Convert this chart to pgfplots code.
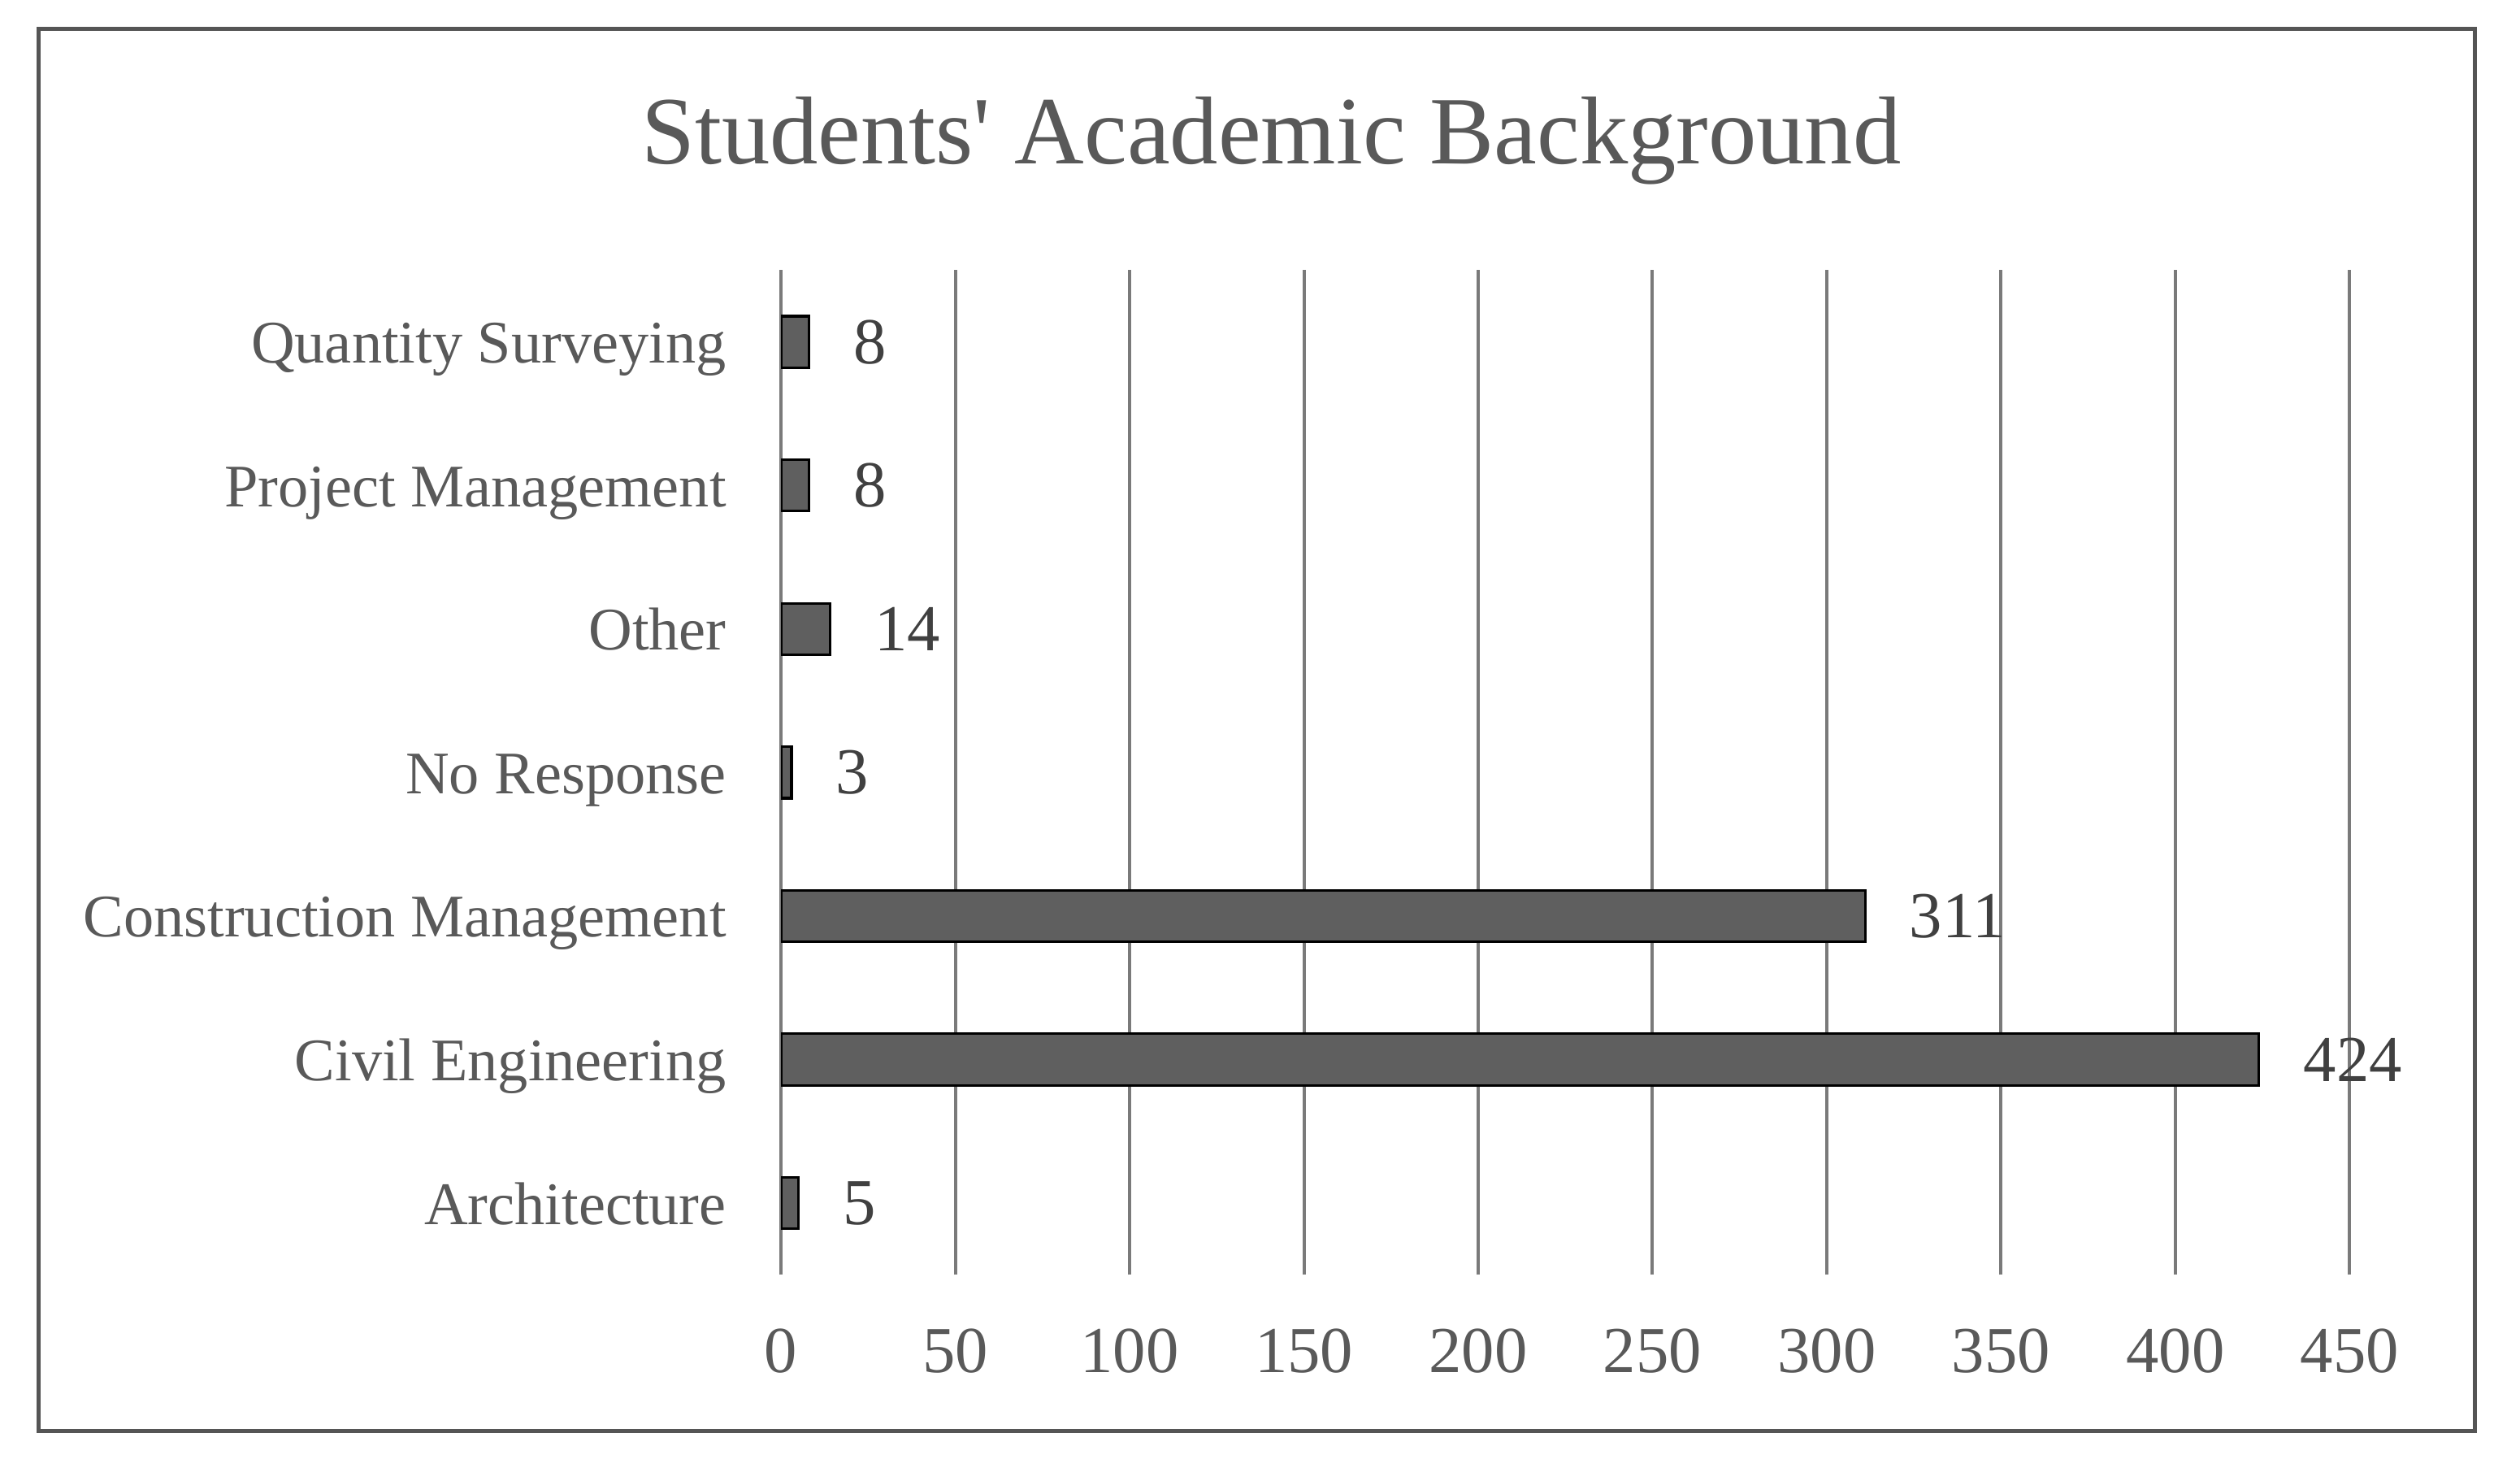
\documentclass[border=0pt]{standalone}
\usepackage{fontspec}
\setmainfont{Liberation Serif}
\usepackage{pgfplots}
\pgfplotsset{compat=1.18}
\definecolor{txt}{HTML}{595959}
\definecolor{lbl}{HTML}{404040}
\definecolor{barfill}{HTML}{5F5F5F}
\definecolor{gridc}{HTML}{7A7A7A}
\definecolor{framec}{HTML}{555555}

\begin{document}
\begin{tikzpicture}
\useasboundingbox (-121.5pt,-30pt) rectangle (270.5pt,198.25pt);
\begin{axis}[
  xbar, scale only axis,
  width=244pt, height=156.25pt,
  xmin=0, xmax=450, ymin=-0.5, ymax=6.5,
  xtick={0,50,...,450}, ytick={0,...,6},
  yticklabels={Architecture, Civil Engineering, Construction Management,
    No Response, Other, Project Management, Quantity Surveying},
  axis line style={draw=none}, major tick length=0pt,
  xmajorgrids, grid style={gridc, line width=0.5pt},
  bar width=8pt,
  /pgf/number format/assume math mode=true,
  xticklabel style={font=\fontsize{10.2}{12}\selectfont, text=txt, yshift=-4.9pt},
  yticklabel style={font=\fontsize{9.4}{11}\selectfont, text=txt, anchor=base east, yshift=-3.3pt, xshift=-5pt},
  nodes near coords,
  nodes near coords style={font=\fontsize{10.2}{12}\selectfont, text=lbl, xshift=3.4pt},
]
\addplot[fill=barfill, draw=black, line width=0.4pt] coordinates {
  (5,0) (424,1) (311,2) (3,3) (14,4) (8,5) (8,6)
};
\end{axis}
\node[anchor=base, font=\fontsize{15}{18}\selectfont, text=txt] at (76.25pt,172.75pt)
  {Students\textquotesingle{} Academic Background};
\draw[framec, line width=0.6pt] (-115.5pt,-24.25pt) rectangle (263.5pt,193.75pt);
\end{tikzpicture}
\end{document}
